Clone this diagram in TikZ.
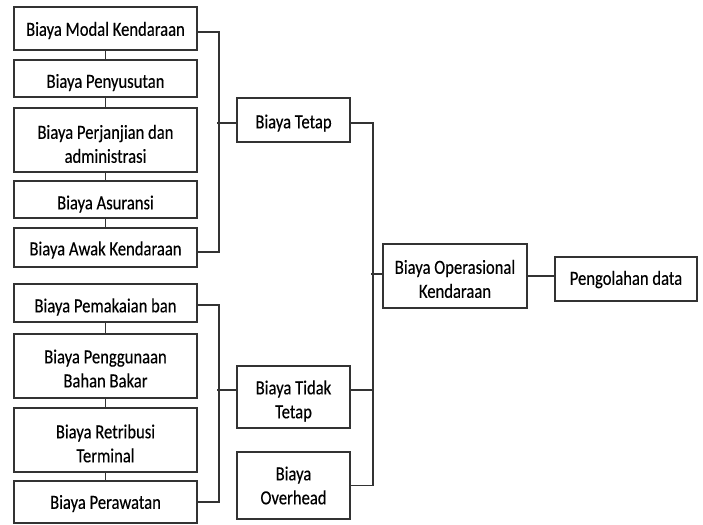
\documentclass[tikz,border=0pt]{standalone}
\usepackage{fontspec}
\setmainfont{Carlito}[FakeStretch=0.83,FakeBold=0.3]
\newcommand\tx[2][3]{\raisebox{-#1pt}[\height][\depth]{\begin{tabular}{@{}c@{}}#2\end{tabular}}}
\begin{document}
\begin{tikzpicture}[x=1pt,y=-1pt,
  box/.style={draw=black!80,line width=1.6pt,rectangle,inner sep=0pt,
    font=\fontsize{20}{24}\selectfont,text=black},
  lbox/.style={box,minimum width=183pt},
  mbox/.style={box,minimum width=113pt},
  conn/.style={draw=black!80,line width=1.5pt}]
\useasboundingbox (0,0) rectangle (703,524);
% left group 1
\node[lbox,minimum height=43pt] (b1) at (105.5,28.5) {\tx[2.5]{Biaya Modal Kendaraan}};
\node[lbox,minimum height=37pt] (b2) at (105.5,78.5) {\tx[4.5]{Biaya Penyusutan}};
\node[lbox,minimum height=64pt] (b3) at (105.5,140) {\tx[6]{Biaya Perjanjian dan\\administrasi}};
\node[lbox,minimum height=37pt] (b4) at (105.5,199.5) {\tx[5]{Biaya Asuransi}};
\node[lbox,minimum height=39pt] (b5) at (105.5,247.5) {\tx[3]{Biaya Awak Kendaraan}};
% left group 2
\node[lbox,minimum height=38pt] (b6) at (105.5,303) {\tx[4.5]{Biaya Pemakaian ban}};
\node[lbox,minimum height=64pt] (b7) at (105.5,366) {\tx[4.5]{Biaya Penggunaan\\Bahan Bakar}};
\node[lbox,minimum height=64pt] (b8) at (105.5,440) {\tx[5.5]{Biaya Retribusi\\Terminal}};
\node[lbox,minimum height=42pt] (b9) at (105.5,502) {\tx[2]{Biaya Perawatan}};
% middle
\node[mbox,minimum height=44pt] (tetap) at (293.5,120) {\tx[3.5]{Biaya Tetap}};
\node[mbox,minimum height=62pt] (tidak) at (293.5,397) {\tx[4.5]{Biaya Tidak\\Tetap}};
\node[mbox,minimum height=67pt] (over) at (293.5,485.5) {\tx[2]{Biaya\\Overhead}};
% right
\node[box,minimum width=144pt,minimum height=64pt] (op) at (455,276) {\tx[5]{Biaya Operasional\\Kendaraan}};
\node[box,minimum width=142pt,minimum height=44pt] (peng) at (626,279) {\tx[1]{Pengolahan data}};
% vertical links in left groups
\draw[conn] (b1.south) -- (b2.north);
\draw[conn] (b2.south) -- (b3.north);
\draw[conn] (b3.south) -- (b4.north);
\draw[conn] (b4.south) -- (b5.north);
\draw[conn] (b6.south) -- (b7.north);
\draw[conn] (b7.south) -- (b8.north);
\draw[conn] (b8.south) -- (b9.north);
% brackets
\draw[conn] ([yshift=-3.5pt]b1.east) -- ++(21,0) |- ([yshift=-4.5pt]b5.east);
\draw[conn] ([yshift=-3pt]tetap.west) -- ++(-19,0);
\draw[conn] ([yshift=-2pt]b6.east) -- ++(21,0) |- (b9.east);
\draw[conn] ([yshift=7pt]tidak.west) -- ++(-19,0);
\draw[conn] ([yshift=-3pt]tetap.east) -- ++(22,0) |- (over.east);
\draw[conn] ([yshift=7pt]tidak.east) -- ++(22,0);
\draw[conn] ([yshift=2pt]op.west) -- ++(-11,0);
\draw[conn] (op.east) -- (op.east -| peng.west);
\end{tikzpicture}
\end{document}
